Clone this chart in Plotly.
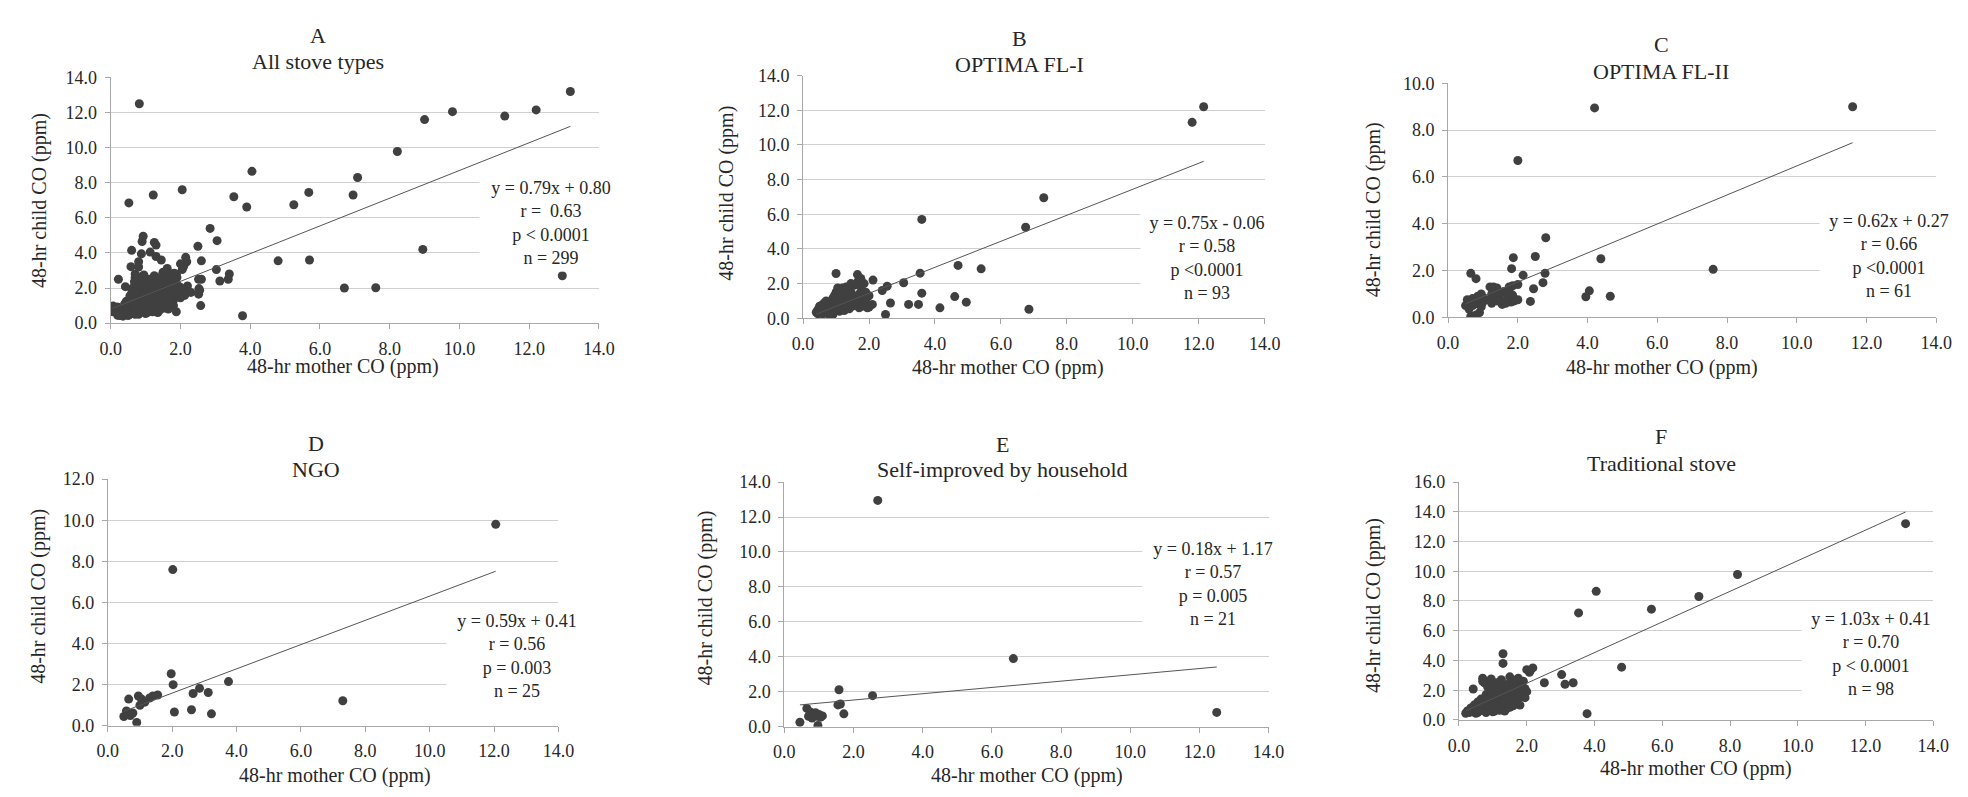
import plotly.graph_objects as go

W, H = 1968, 797
FONT = "Liberation Serif, Times New Roman, serif"
TXT = "#262626"

# ---------------- data (48-hr mother CO, 48-hr child CO, ppm) ----------------
# B: OPTIMA FL-I
B_mother = [12.15, 11.8, 7.3, 6.75, 3.6, 4.7, 5.4, 3.55, 3.6, 4.6, 4.95, 6.85, 4.15, 3.5, 3.2, 3.05,
            2.65, 2.5, 2.55, 2.4, 2.12, 2.1, 1.0, 1.65,
            0.4, 0.45, 0.5, 0.55, 0.6, 0.6, 0.65, 0.7, 0.7, 0.75, 0.8, 0.8, 0.85, 0.85, 0.9, 0.9,
            0.95, 1.0, 1.0, 1.0, 1.05, 1.1, 1.1, 1.15, 1.2, 1.2, 1.25, 1.3, 1.3, 1.35, 1.4, 1.4,
            1.45, 1.5, 1.5, 1.55, 1.6, 1.6, 1.65, 1.7, 1.7, 1.75, 1.8, 1.8, 1.85, 1.9, 1.95, 2.0,
            1.2, 0.95, 1.1, 1.35, 0.65, 0.75, 1.5, 1.25, 0.55, 1.9, 2.0, 1.45, 1.15, 0.5, 0.7, 0.9,
            0.45, 1.05, 1.75, 0.6, 1.3]
B_child = [12.2, 11.3, 6.95, 5.25, 5.7, 3.05, 2.85, 2.6, 1.45, 1.25, 0.93, 0.52, 0.6, 0.8, 0.8, 2.05,
           0.88, 0.22, 1.85, 1.6, 2.2, 0.8, 2.58, 2.52,
           0.35, 0.5, 0.3, 0.6, 0.45, 0.8, 0.5, 0.7, 0.4, 0.6, 0.9, 0.3, 0.5, 0.75, 0.2, 0.6,
           0.85, 0.5, 1.0, 1.5, 0.7, 1.2, 0.4, 0.9, 1.6, 0.6, 1.1, 1.8, 0.8, 1.3, 1.0, 0.55,
           1.5, 1.2, 0.7, 1.9, 1.0, 0.9, 2.1, 1.4, 0.6, 1.8, 1.1, 0.7, 2.0, 1.5, 0.6, 1.3,
           1.75, 1.3, 1.55, 1.7, 0.9, 0.25, 0.9, 0.45, 0.35, 0.95, 0.65, 2.0, 1.35, 0.7, 1.0, 1.15,
           0.25, 1.75, 2.3, 0.25, 1.45]

# C: OPTIMA FL-II
C_mother = [11.6, 4.2, 2.0, 7.6, 2.8, 2.5, 1.87, 4.38, 2.78, 2.72, 2.45, 2.15, 1.82, 4.05, 3.95, 4.65,
            2.36, 2.0, 0.65, 0.8,
            0.5, 0.55, 0.6, 0.65, 0.7, 0.75, 0.8, 0.85, 0.9, 0.9, 0.95, 1.0, 1.2, 1.25, 1.3, 1.35,
            1.4, 1.45, 1.5, 1.6, 1.65, 1.7, 1.75, 1.8, 1.85, 1.9, 1.7, 1.15, 0.6, 0.8, 1.0, 1.55,
            1.75, 1.25, 0.7, 1.85, 1.6, 2.0, 0.95, 1.4, 1.3]
C_child = [9.0, 8.95, 6.7, 2.05, 3.4, 2.6, 2.55, 2.5, 1.88, 1.48, 1.22, 1.8, 2.08, 1.13, 0.88, 0.9,
           0.68, 1.4, 1.88, 1.65,
           0.5, 0.75, 0.6, 0.05, 0.8, 0.55, 0.1, 0.9, 0.7, 0.2, 1.0, 0.65, 1.3, 0.6, 0.85, 1.05,
           1.25, 0.9, 0.75, 1.1, 0.6, 0.8, 1.3, 0.65, 0.95, 0.7, 1.0, 0.75, 0.35, 0.75, 0.85, 0.55,
           1.2, 1.0, 0.5, 1.35, 0.7, 0.75, 0.45, 0.7, 1.3]

# D: NGO
D_mother = [12.05, 2.02, 7.3, 3.75, 1.97, 2.03, 2.85, 2.65, 3.12, 2.07, 2.6, 3.22, 0.9,
            0.5, 0.58, 0.65, 0.7, 0.78, 0.95, 1.0, 1.05, 1.15, 1.3, 1.4, 1.55]
D_child = [9.8, 7.6, 1.22, 2.15, 2.53, 2.0, 1.82, 1.57, 1.62, 0.67, 0.78, 0.58, 0.16,
           0.45, 0.72, 1.3, 0.5, 0.62, 1.45, 1.0, 1.3, 1.15, 1.35, 1.45, 1.5]

# E: Self-improved by household
E_mother = [2.7, 6.62, 12.5, 2.55, 1.58, 1.62, 1.72, 0.45, 0.97,
            0.65, 0.7, 0.75, 0.8, 0.85, 0.9, 0.95, 1.0, 1.05, 1.1, 1.55, 0.75]
E_child = [12.95, 3.9, 0.82, 1.78, 2.12, 1.3, 0.74, 0.26, 0.07,
           1.05, 0.6, 0.85, 0.5, 0.72, 0.8, 0.6, 0.7, 0.55, 0.62, 1.25, 0.68]

# F: Traditional stove
F_mother = [13.18, 8.22, 7.08, 5.68, 4.05, 3.53, 4.8, 3.03, 3.13, 3.37, 2.52, 3.78, 2.1, 2.18, 2.0,
            1.3, 1.3, 0.42, 2.08,
            0.2, 0.25, 0.3, 0.35, 0.4, 0.45, 0.5, 0.5, 0.55, 0.6, 0.6, 0.65, 0.7, 0.7, 0.75, 0.75,
            0.8, 0.8, 0.85, 0.85, 0.9, 0.9, 0.95, 0.95, 1.0, 1.0, 1.05, 1.05, 1.1, 1.1, 1.15, 1.15,
            1.2, 1.2, 1.25, 1.25, 1.3, 1.3, 1.35, 1.35, 1.4, 1.4, 1.45, 1.45, 1.5, 1.5, 1.55, 1.55,
            1.6, 1.6, 1.65, 1.65, 1.7, 1.7, 1.75, 1.75, 1.8, 1.8, 1.85, 1.85, 1.9, 1.9, 1.95, 1.95,
            2.0, 1.1, 0.95, 1.2, 0.65, 1.0, 1.45, 1.6, 0.55, 0.8, 1.35, 1.25, 0.7, 1.7, 1.5]
F_child = [13.2, 9.78, 8.3, 7.45, 8.65, 7.2, 3.55, 3.05, 2.4, 2.5, 2.5, 0.42, 3.3, 3.5, 3.38,
           4.45, 3.8, 2.08, 3.2,
           0.45, 0.6, 0.5, 0.8, 0.55, 1.0, 0.7, 0.45, 1.2, 0.6, 0.9, 1.4, 2.8, 0.7, 2.5, 1.1,
           1.7, 0.5, 2.2, 0.9, 1.3, 2.6, 0.7, 1.9, 1.0, 1.5, 2.3, 0.6, 1.2, 1.8, 0.8, 2.0,
           1.4, 0.65, 1.1, 2.7, 1.6, 0.9, 2.1, 1.3, 0.75, 1.9, 1.5, 2.4, 1.1, 0.85, 2.2, 1.7,
           1.3, 0.95, 2.5, 1.6, 1.2, 2.0, 2.8, 1.4, 1.9, 1.0, 2.3, 1.6, 1.8, 2.6, 2.1, 1.5,
           1.9, 2.5, 2.75, 2.2, 1.0, 0.55, 1.0, 2.0, 0.5, 1.35, 0.6, 2.6, 2.6, 2.7, 2.9]

# A: all stove types (pooled; in panel A the B-E pairs appear with the two values exchanged)
A_mother = F_mother + B_child + C_child + D_child + E_child
A_child = F_child + B_mother + C_mother + D_mother + E_mother

# fitted regression lines (slope, intercept) and statistics as printed
FIT = {"A": (0.79, 0.80), "B": (0.75, -0.06), "C": (0.62, 0.27),
       "D": (0.59, 0.41), "E": (0.18, 1.17), "F": (1.03, 0.41)}
STATS = {
    "A": ["y = 0.79x + 0.80", "r =  0.63", "p &lt; 0.0001", "n = 299"],
    "B": ["y = 0.75x - 0.06", "r = 0.58", "p &lt;0.0001", "n = 93"],
    "C": ["y = 0.62x + 0.27", "r = 0.66", "p &lt;0.0001", "n = 61"],
    "D": ["y = 0.59x + 0.41", "r = 0.56", "p = 0.003", "n = 25"],
    "E": ["y = 0.18x + 1.17", "r = 0.57", "p = 0.005", "n = 21"],
    "F": ["y = 1.03x + 0.41", "r = 0.70", "p &lt; 0.0001", "n = 98"],
}
SUBTITLES = {"A": "All stove types", "B": "OPTIMA FL-I", "C": "OPTIMA FL-II",
             "D": "NGO", "E": "Self-improved by household", "F": "Traditional stove"}
YMAX = {"A": 14, "B": 14, "C": 10, "D": 12, "E": 14, "F": 16}
XMAX = 14
DATA = {"A": (A_mother, A_child), "B": (B_mother, B_child), "C": (C_mother, C_child),
        "D": (D_mother, D_child), "E": (E_mother, E_child), "F": (F_mother, F_child)}

# ---------------- layout geometry (pixels) ----------------
GEOM = {
    "A": dict(box=(93, 588, 61, 313), tx=303, ty=(18, 45), xt=(328, 357), yt=(21, 187), st=(539, 210.5, 136)),
    "B": dict(box=(795, 1263, 59, 308), tx=1014, ty=(21, 48), xt=(1003, 358), yt=(717, 180), st=(1205, 246.5, 126)),
    "C": dict(box=(1449, 1944, 67, 307), tx=1665, ty=(27, 55), xt=(1666, 358), yt=(1373, 197), st=(1896, 244, 132)),
    "D": dict(box=(90, 547, 473, 726), tx=301, ty=(436, 463), xt=(320, 777), yt=(19, 593), st=(505, 654.5, 134)),
    "E": dict(box=(776, 1267, 476, 727), tx=997, ty=(437, 463), xt=(1022, 777), yt=(696, 595), st=(1211, 580.5, 134)),
    "F": dict(box=(1460, 1941, 476, 720), tx=1665, ty=(429, 457), xt=(1700, 770), yt=(1374, 603), st=(1878, 652, 132)),
}


def px(x):
    return x / W


def py(y):
    return 1 - y / H


fig = go.Figure()
layout = dict(
    width=W, height=H, margin=dict(l=0, r=0, t=0, b=0),
    paper_bgcolor="white", plot_bgcolor="white", showlegend=False,
    font=dict(family=FONT, color=TXT),
)
annotations = []

for i, key in enumerate(["A", "B", "C", "D", "E", "F"], start=1):
    g = GEOM[key]
    l, r, t, b = g["box"]
    xs, ys = DATA[key]
    sfx = "" if i == 1 else str(i)
    xa, ya = "x" + sfx, "y" + sfx

    layout["xaxis" + sfx] = dict(
        domain=[px(l), px(r)], range=[0, XMAX], dtick=2, tick0=0, tickformat=".1f",
        showgrid=False, zeroline=False, showline=True, linecolor="#a8a8a8", linewidth=1,
        ticks="outside", ticklen=5, tickcolor="#a8a8a8", anchor=ya,
        tickfont=dict(family=FONT, size=18, color=TXT), ticklabelstandoff=4, fixedrange=True,
    )
    layout["yaxis" + sfx] = dict(
        domain=[py(b), py(t)], range=[0, YMAX[key]], dtick=2, tick0=0, tickformat=".1f",
        showgrid=True, gridcolor="#d0d0d0", gridwidth=1, zeroline=False,
        showline=True, linecolor="#a8a8a8", linewidth=1,
        ticks="outside", ticklen=5, tickcolor="#a8a8a8", anchor=xa,
        tickfont=dict(family=FONT, size=18, color=TXT), ticklabelstandoff=4, fixedrange=True,
    )

    fig.add_trace(go.Scatter(
        x=xs, y=ys, mode="markers", xaxis=xa, yaxis=ya,
        marker=dict(symbol="circle", size=9, color="#404040"),
        hoverinfo="skip",
    ))
    m, c = FIT[key]
    x0, x1 = min(xs), max(xs)
    fig.add_trace(go.Scatter(
        x=[x0, x1], y=[m * x0 + c, m * x1 + c], mode="lines", xaxis=xa, yaxis=ya,
        line=dict(color="#555555", width=1), hoverinfo="skip",
    ))

    annotations.append(dict(text=key, x=px(g["tx"]), y=py(g["ty"][0]), xref="paper", yref="paper",
                            xanchor="center", yanchor="middle", showarrow=False,
                            font=dict(family=FONT, size=22, color=TXT)))
    annotations.append(dict(text=SUBTITLES[key], x=px(g["tx"]), y=py(g["ty"][1]), xref="paper", yref="paper",
                            xanchor="center", yanchor="middle", showarrow=False,
                            font=dict(family=FONT, size=22, color=TXT)))
    annotations.append(dict(text="48-hr mother CO (ppm)", x=px(g["xt"][0]), y=py(g["xt"][1]),
                            xref="paper", yref="paper", xanchor="center", yanchor="middle",
                            showarrow=False, font=dict(family=FONT, size=20, color=TXT)))
    annotations.append(dict(text="48-hr child CO (ppm)", x=px(g["yt"][0]), y=py(g["yt"][1]),
                            xref="paper", yref="paper", xanchor="center", yanchor="middle",
                            textangle=-90, showarrow=False, font=dict(family=FONT, size=20, color=TXT)))
    cx, cy, wd = g["st"]
    annotations.append(dict(text="<br>".join(STATS[key]), x=px(cx), y=py(cy), xref="paper", yref="paper",
                            xanchor="center", yanchor="middle", align="center", showarrow=False,
                            width=wd, bgcolor="white", borderpad=3,
                            font=dict(family=FONT, size=18, color=TXT)))

layout["annotations"] = annotations
fig.update_layout(**layout)
fig.write_html("out.html")
